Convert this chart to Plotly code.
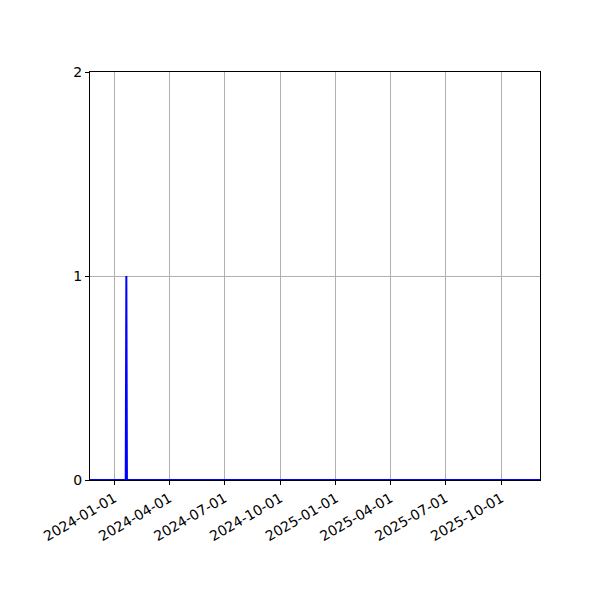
import plotly.graph_objects as go

# series: mostly zero with a single spike
dates = ["2023-11-22", "2024-01-20", "2024-01-21", "2024-01-22", "2025-12-04"]
values = [0, 0, 1, 0, 0]

x_ticks = ["2024-01-01", "2024-04-01", "2024-07-01", "2024-10-01",
           "2025-01-01", "2025-04-01", "2025-07-01", "2025-10-01"]
y_ticks = [0, 1, 2]

fig = go.Figure()
fig.add_trace(
    go.Scatter(x=dates, y=values, mode="lines",
               line=dict(color="blue", width=2), showlegend=False)
)

axis_style = dict(
    showline=True, linecolor="black", linewidth=1, mirror=True,
    ticks="outside", ticklen=4, tickcolor="black",
    showgrid=True, gridcolor="#b0b0b0", gridwidth=1, zeroline=False,
    tickfont=dict(family="DejaVu Sans", size=14, color="black"),
)

fig.update_xaxes(
    range=["2023-11-22", "2025-12-04"],
    tickvals=x_ticks, ticktext=x_ticks, tickangle=-30,
    **axis_style,
)
fig.update_yaxes(range=[0, 2], tickvals=y_ticks, **axis_style)

# page body has an 8px margin, so offsets are shifted to land the plot box
fig.update_layout(
    width=600, height=600,
    margin=dict(l=82, r=68, t=64, b=128),
    plot_bgcolor="white", paper_bgcolor="white",
    font=dict(family="DejaVu Sans"),
)

fig.write_html("out.html")
